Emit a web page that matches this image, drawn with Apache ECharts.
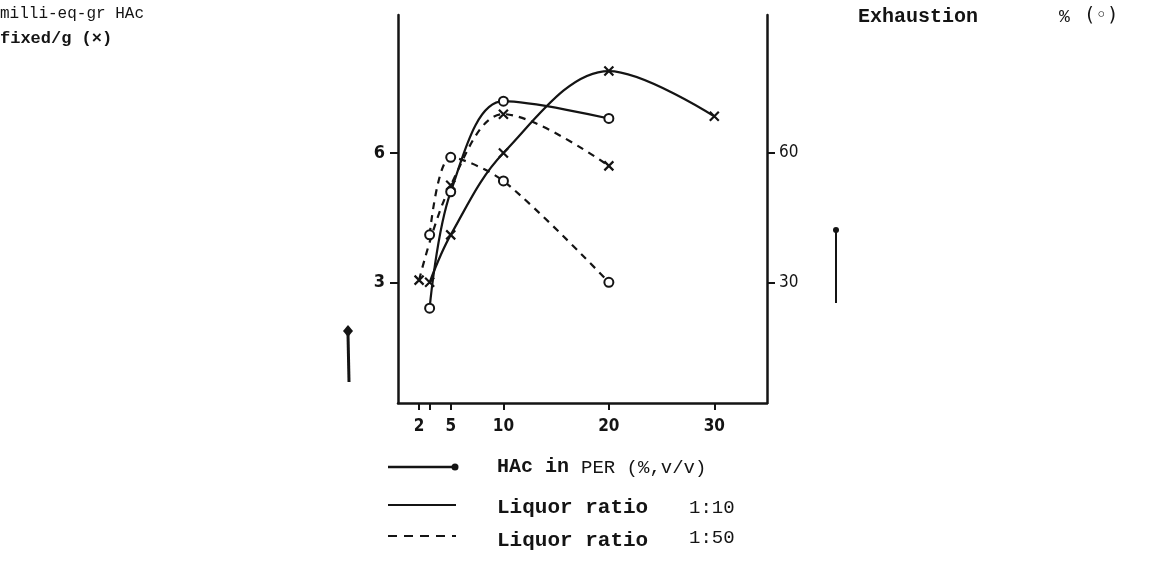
<!DOCTYPE html>
<html>
<head>
<meta charset="utf-8">
<script src="https://cdn.jsdelivr.net/npm/echarts@6/dist/echarts.min.js"></script>
<style>
  html, body { margin: 0; padding: 0; background: #fff; }
  #chart { width: 1150px; height: 567px; }
</style>
</head>
<body>
<div id="chart"></div>
<script>
// HAc concentration in PER (%, v/v)
const xTicks = [2, 3, 5, 10, 20, 30];
const xLabels = [2, 5, 10, 20, 30];
const leftTicks = [3, 6];
const rightTicks = [30, 60];

// Liquor ratio 1:10 — milli-eq-gr HAc fixed/g (x markers, solid)
const fixed10X = [3, 5, 10, 20, 30];
const fixed10Y = [3.0, 4.1, 6.0, 7.9, 6.85];
// Liquor ratio 1:10 — exhaustion % (o markers, solid)
const exh10X = [3, 5, 10, 20];
const exh10Y = [24, 51, 72, 68];
// Liquor ratio 1:50 — milli-eq-gr HAc fixed/g (x markers, dashed)
const fixed50X = [2, 5, 10, 20];
const fixed50Y = [3.05, 5.25, 6.9, 5.7];
// Liquor ratio 1:50 — exhaustion % (o markers, dashed)
const exh50X = [3, 5, 10, 20];
const exh50Y = [41, 59, 53.5, 30];

const pairs = (xs, ys) => xs.map((x, i) => [x, ys[i]]);

const ink = '#141414';
const mono = '"Liberation Mono", "DejaVu Sans Mono", monospace';
const narrow = '"Liberation Sans Narrow", "DejaVu Sans Condensed", "Liberation Sans", sans-serif';
const crossSymbol = 'path://M0,0L10,10M10,0L0,10';

function curve(name, data, yIdx, marker, dashed, smooth) {
  return {
    name: name,
    type: 'line',
    yAxisIndex: yIdx,
    data: data,
    smooth: smooth,
    symbol: marker === 'x' ? crossSymbol : 'emptyCircle',
    symbolSize: 9,
    showAllSymbol: true,
    lineStyle: { color: ink, width: 2.2, type: dashed ? [7, 6] : 'solid' },
    itemStyle: { color: ink, borderColor: ink, borderWidth: 2.2 },
    emphasis: { disabled: true },
    z: 3
  };
}

const chart = echarts.init(document.getElementById('chart'), null, { renderer: 'canvas' });

chart.setOption({
  backgroundColor: '#fff',
  animation: false,
  grid: { left: 398, right: 383, top: 15, bottom: 164, containLabel: false },
  xAxis: {
    type: 'value',
    min: 0,
    max: 35,
    splitLine: { show: false },
    axisLine: { show: true, onZero: false, lineStyle: { color: ink, width: 2.5 } },
    axisTick: { show: true, customValues: xTicks, length: 7, inside: false, lineStyle: { color: ink, width: 2 } },
    axisLabel: { customValues: xLabels, color: ink, fontFamily: narrow, fontSize: 17, fontWeight: 'bold', margin: 15 }
  },
  yAxis: [
    {
      type: 'value',
      position: 'left',
      min: 0.2,
      max: 9.2,
      splitLine: { show: false },
      axisLine: { show: true, onZero: false, lineStyle: { color: ink, width: 2.5 } },
      axisTick: { show: true, customValues: leftTicks, length: 8, lineStyle: { color: ink, width: 2 } },
      axisLabel: { customValues: leftTicks, color: ink, fontFamily: narrow, fontSize: 18, fontWeight: 'bold', margin: 13 }
    },
    {
      type: 'value',
      position: 'right',
      min: 2,
      max: 92,
      splitLine: { show: false },
      axisLine: { show: true, onZero: false, lineStyle: { color: ink, width: 2.5 } },
      axisTick: { show: true, customValues: rightTicks, length: 8, lineStyle: { color: ink, width: 2 } },
      axisLabel: { customValues: rightTicks, color: ink, fontFamily: narrow, fontSize: 17, margin: 12 }
    }
  ],
  series: [
    curve('fixed 1:10', pairs(fixed10X, fixed10Y), 0, 'x', false, 0.35),
    curve('exhaustion 1:10', pairs(exh10X, exh10Y), 1, 'o', false, 0.35),
    curve('fixed 1:50', pairs(fixed50X, fixed50Y), 0, 'x', true, 0.35),
    curve('exhaustion 1:50', pairs(exh50X, exh50Y), 1, 'o', true, 0.3)
  ],
  graphic: [
    // axis titles
    { type: 'text', left: 0, top: 6, style: { text: 'milli-eq-gr HAc', font: '16px ' + mono, fill: ink } },
    { type: 'text', left: 0, top: 30, style: { text: 'fixed/g (×)', font: 'bold 17px ' + mono, fill: ink } },
    { type: 'text', left: 858, top: 7, style: { text: 'Exhaustion', font: 'bold 20px ' + mono, fill: ink } },
    { type: 'text', left: 1059, top: 8, style: { text: '%', font: '18px ' + mono, fill: ink } },
    { type: 'text', left: 1084, top: 7, style: { text: '(◦)', font: '19px "DejaVu Sans Mono", monospace', fill: ink } },

    // arrow beside the left axis
    { type: 'line', shape: { x1: 348, y1: 334, x2: 349, y2: 382 }, style: { stroke: ink, lineWidth: 3 } },
    { type: 'polygon', shape: { points: [[348, 325], [353, 331], [348, 337], [343, 331]] }, style: { fill: ink } },
    // arrow beside the right axis
    { type: 'line', shape: { x1: 836, y1: 232, x2: 836, y2: 303 }, style: { stroke: ink, lineWidth: 2 } },
    { type: 'circle', shape: { cx: 836, cy: 230, r: 3 }, style: { fill: ink } },

    // key
    { type: 'line', shape: { x1: 388, y1: 467, x2: 453, y2: 467 }, style: { stroke: ink, lineWidth: 2.5 } },
    { type: 'circle', shape: { cx: 455, cy: 467, r: 3.5 }, style: { fill: ink } },
    { type: 'text', left: 497, top: 457, style: { text: 'HAc in', font: 'bold 20px ' + mono, fill: ink } },
    { type: 'text', left: 581, top: 458, style: { text: 'PER (%,v/v)', font: '19px ' + mono, fill: ink } },

    { type: 'line', shape: { x1: 388, y1: 505, x2: 456, y2: 505 }, style: { stroke: ink, lineWidth: 2 } },
    { type: 'text', left: 497, top: 497, style: { text: 'Liquor ratio', font: 'bold 21px ' + mono, fill: ink } },
    { type: 'text', left: 689, top: 498, style: { text: '1:10', font: '19px ' + mono, fill: ink } },

    { type: 'line', shape: { x1: 388, y1: 536, x2: 456, y2: 536 }, style: { stroke: ink, lineWidth: 2, lineDash: [9, 7] } },
    { type: 'text', left: 497, top: 530, style: { text: 'Liquor ratio', font: 'bold 21px ' + mono, fill: ink } },
    { type: 'text', left: 689, top: 528, style: { text: '1:50', font: '19px ' + mono, fill: ink } }
  ]
});
</script>
</body>
</html>
